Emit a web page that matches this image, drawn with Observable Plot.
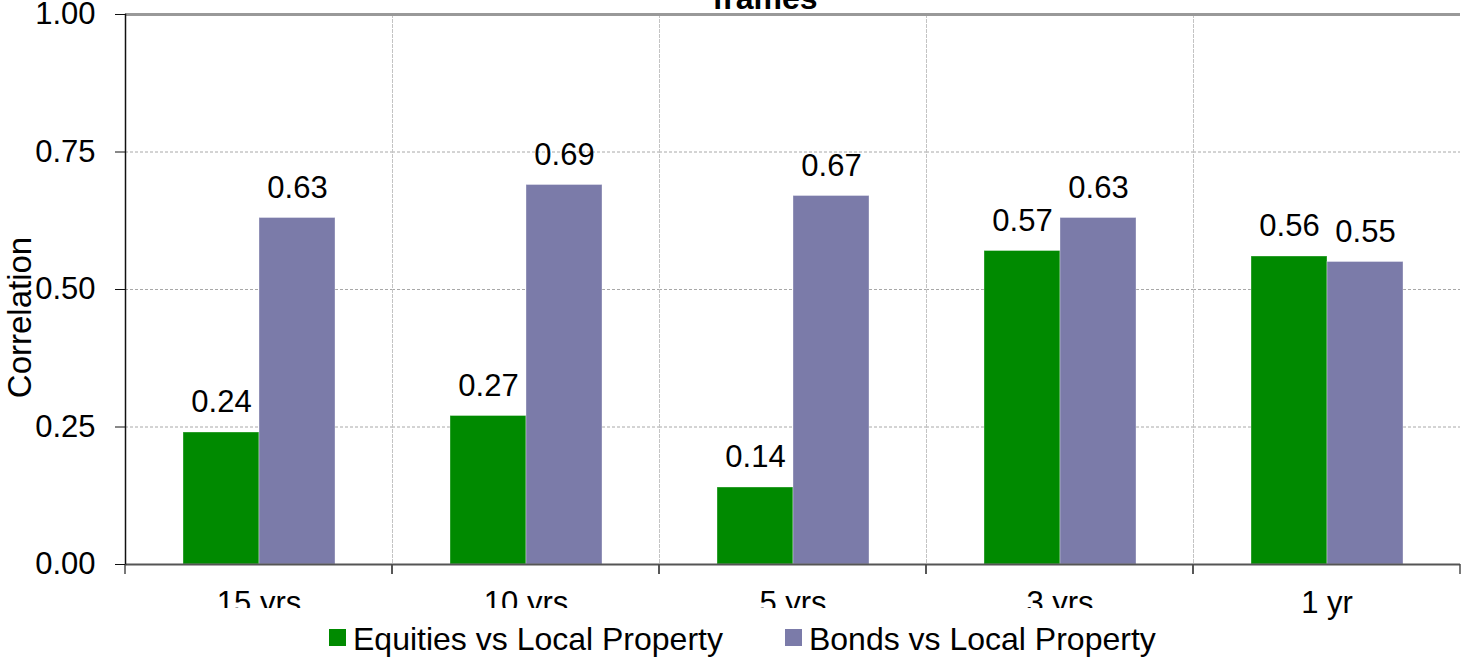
<!DOCTYPE html>
<html>
<head>
<meta charset="utf-8">
<script src="https://cdn.jsdelivr.net/npm/d3@7"></script>
<script src="https://cdn.jsdelivr.net/npm/@observablehq/plot@0.6"></script>
<style>
  body { margin: 0; background: #fff; }
  #chart { position: relative; width: 1461px; height: 660px; overflow: hidden;
           font-family: "Liberation Sans", Arial, sans-serif; color: #000; }
  #title { position: absolute; left: 615px; width: 300px; top: -18px; text-align: center;
           font-weight: bold; font-size: 32px; line-height: 32px; white-space: nowrap; }
  #legend { position: absolute; left: 190px; top: 608px; width: 1010px; height: 52px;
            background: #fff; box-sizing: border-box; padding-left: 139px; padding-top: 15px;
            display: flex; align-items: flex-start; font-size: 32px; line-height: 32px; }
  .item { display: flex; align-items: flex-start; margin-right: 62px; white-space: nowrap; }
  .swatch { width: 17px; height: 17px; margin-top: 6px; margin-right: 7px; }
</style>
</head>
<body>
<div id="chart"></div>
<script>
// Correlation with local property over different time frames
const periods = ["15 yrs", "10 yrs", "5 yrs", "3 yrs", "1 yr"];
const seriesNames = ["Equities vs Local Property", "Bonds vs Local Property"];
const equities = [0.24, 0.27, 0.14, 0.57, 0.56];
const bonds = [0.63, 0.69, 0.67, 0.63, 0.55];
const yTicks = [0, 0.25, 0.5, 0.75, 1];
const seriesColors = ["#008a00", "#7b7ba9"];
const titleText = "frames";
const yLabel = "Correlation";

const rows = periods.flatMap((p, i) => [
  {period: p, series: seriesNames[0], value: equities[i]},
  {period: p, series: seriesNames[1], value: bonds[i]}
]);

// Short ticks hanging below the baseline at each category boundary
function boundaryTicks(index, scales, values, dimensions) {
  const xs = typeof scales.x.range === "function" ? scales.x.range() : scales.scales.x.range;
  const y0 = scales.y(0);
  const g = d3.create("svg:g").attr("stroke", "#4d4d4d").attr("stroke-width", 1.5);
  g.selectAll("line").data(xs).join("line")
    .attr("x1", d => d).attr("x2", d => d)
    .attr("y1", y0).attr("y2", y0 + 10);
  return g.node();
}

const chart = Plot.plot({
  width: 1461,
  height: 660,
  marginLeft: 123,
  marginRight: 0,
  marginTop: 14,
  marginBottom: 96,
  style: {fontFamily: "'Liberation Sans', Arial, sans-serif", fontSize: "31px", background: "transparent", color: "#000"},
  fx: {domain: periods, padding: 0, label: null},
  x: {domain: seriesNames, paddingInner: 0, paddingOuter: 0.7377, axis: null},
  y: {domain: [0, 1], label: null},
  color: {domain: seriesNames, range: seriesColors},
  marks: [
    Plot.gridY(yTicks, {stroke: "#a8a8a8", strokeOpacity: 1, strokeDasharray: "3,2"}),
    Plot.frame({anchor: "left", stroke: "#c4c4c4", strokeDasharray: "3,2"}),
    Plot.barY(rows, {fx: "period", x: "series", y: "value", fill: "series",
                     stroke: "#ffffff", strokeOpacity: 0.35, strokeWidth: 1}),
    Plot.text(rows, {fx: "period", x: "series", y: "value", text: d => d.value.toFixed(2),
                     dy: -30, lineAnchor: "middle", fontSize: 31, fill: "#000"}),
    Plot.ruleY([1], {stroke: "#999999", strokeWidth: 3}),
    Plot.ruleY([0], {stroke: "#555555", strokeWidth: 2}),
    Plot.frame({anchor: "left", facetAnchor: "left", stroke: "#111", strokeWidth: 1.5}),
    boundaryTicks,
    Plot.axisY(yTicks, {tickSize: 10, tickPadding: 20, tickFormat: d3.format(".2f"),
                        label: null, fontSize: 31, stroke: "#111"}),
    Plot.axisFx({anchor: "bottom", tickSize: 0, tickPadding: 26, label: null, fontSize: 31}),
    Plot.text([yLabel], {frameAnchor: "left", textAnchor: "middle", lineAnchor: "middle",
                         rotate: -90, dx: -105, dy: 28, fontSize: 33, facet: "super", fill: "#000"})
  ]
});

const root = document.getElementById("chart");
root.appendChild(chart);

const title = document.createElement("div");
title.id = "title";
title.textContent = titleText;
root.appendChild(title);

const legend = document.createElement("div");
legend.id = "legend";
seriesNames.forEach((name, i) => {
  const item = document.createElement("div");
  item.className = "item";
  const sw = document.createElement("div");
  sw.className = "swatch";
  sw.style.background = seriesColors[i];
  const label = document.createElement("span");
  label.textContent = name;
  item.appendChild(sw);
  item.appendChild(label);
  legend.appendChild(item);
});
root.appendChild(legend);
</script>
</body>
</html>
